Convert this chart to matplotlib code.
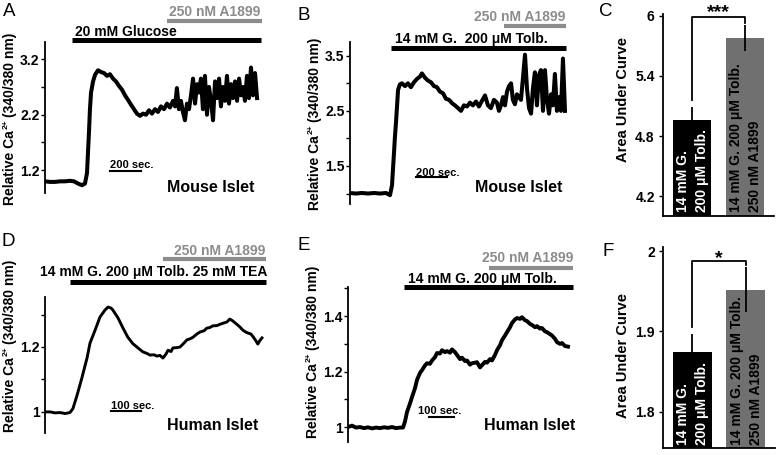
import matplotlib.pyplot as plt
import matplotlib.transforms as mtransforms

# ---------------- data ----------------
# A: mouse islet, 20 mM glucose (time in s, Ca ratio)
a_t = [0, 32, 65, 97, 129, 161, 187, 213, 239, 258, 271, 277, 284, 290, 297, 310, 323, 342,
       361, 381, 400, 419, 439, 458, 477, 497, 516, 535, 555, 574, 593, 613, 632, 652, 671,
       690, 710, 729, 748, 768, 787, 806, 826, 839, 851, 864, 877, 890, 903, 916, 929, 942,
       955, 968, 981, 993, 1006, 1019, 1032, 1045, 1058, 1071, 1084, 1097, 1110, 1123, 1135,
       1148, 1161, 1174, 1187, 1200, 1213, 1226, 1239, 1252, 1265, 1277, 1290, 1303, 1316,
       1329, 1342, 1355, 1368]
a_v = [1.0, 0.99, 0.99, 1.0, 1.0, 1.01, 1.0, 0.96, 0.93, 0.96, 1.15, 1.5, 1.9, 2.3, 2.6, 2.8,
       2.92, 3.0, 2.97, 2.95, 2.9, 2.93, 2.85, 2.8, 2.72, 2.65, 2.55, 2.47, 2.38, 2.3, 2.22,
       2.18, 2.22, 2.2, 2.28, 2.22, 2.3, 2.25, 2.35, 2.3, 2.4, 2.33, 2.45, 2.35, 2.68, 2.3,
       2.45, 2.25, 2.1, 2.4, 2.3, 2.55, 2.85, 2.4, 2.75, 2.6, 2.85, 2.3, 2.9, 2.2, 2.7, 2.45,
       2.1, 2.8, 2.5, 2.85, 2.35, 2.7, 2.45, 2.9, 2.4, 2.75, 2.5, 2.8, 2.45, 2.85, 2.55, 2.7,
       2.45, 2.9, 2.5, 3.05, 2.55, 2.95, 2.5]

# B: mouse islet, 14 mM glucose + 200 uM tolbutamide
b_t = [0, 39, 77, 116, 155, 194, 232, 258, 271, 284, 290, 297, 310, 322, 335, 355, 374, 393,
       413, 432, 451, 464, 484, 503, 522, 542, 561, 580, 600, 619, 639, 658, 677, 697, 716,
       735, 755, 774, 793, 813, 832, 851, 871, 890, 909, 929, 948, 961, 974, 987, 1000, 1013,
       1026, 1039, 1051, 1064, 1077, 1090, 1103, 1116, 1129, 1142, 1155, 1168, 1180, 1193,
       1206, 1219, 1232, 1245, 1258, 1271, 1284, 1297, 1309, 1322, 1335, 1348, 1361, 1374, 1387]
b_v = [1.01, 1.0, 1.01, 1.0, 1.01, 1.0, 1.01, 0.97, 1.15, 1.75, 2.03, 2.3, 2.88, 2.98, 3.0,
       2.95, 3.0, 2.93, 3.02, 3.08, 3.12, 3.18, 3.1, 3.05, 3.02, 2.95, 2.93, 2.85, 2.82, 2.72,
       2.7, 2.64, 2.6, 2.55, 2.5, 2.6, 2.58, 2.65, 2.6, 2.67, 2.58, 2.68, 2.78, 2.6, 2.55, 2.7,
       2.65, 2.5, 2.6, 2.75, 2.6, 2.85, 2.95, 3.0, 2.7, 2.62, 2.8, 2.75, 2.7, 3.1, 3.52, 2.9,
       2.55, 2.45, 2.9, 3.2, 2.6, 3.15, 3.24, 2.5, 3.24, 2.7, 2.45, 2.8, 2.6, 3.17, 2.5, 2.75,
       2.5, 3.45, 2.5]

# D: human islet, glucose + tolbutamide + TEA
d_t = [0, 17, 33, 50, 67, 83, 93, 107, 123, 140, 150, 167, 183, 200, 210, 220, 226, 243, 260,
       276, 293, 310, 326, 340, 350, 363, 373, 383, 393, 403, 410, 420, 426, 440, 450, 463,
       473, 483, 493, 506, 516, 530, 539, 549, 559, 573, 583, 596, 606, 616, 626, 639, 649,
       659, 669, 676, 686, 693, 702, 709, 716, 723]
d_v = [1.0, 1.0, 0.997, 0.998, 0.995, 0.998, 1.01, 1.052, 1.105, 1.166, 1.212, 1.252, 1.292,
       1.314, 1.323, 1.32, 1.314, 1.29, 1.258, 1.23, 1.21, 1.197, 1.185, 1.18, 1.175, 1.176,
       1.172, 1.174, 1.166, 1.178, 1.19, 1.186, 1.197, 1.198, 1.2, 1.212, 1.222, 1.225, 1.23,
       1.24, 1.246, 1.25, 1.258, 1.26, 1.265, 1.266, 1.27, 1.274, 1.277, 1.286, 1.28, 1.27,
       1.262, 1.252, 1.246, 1.243, 1.24, 1.232, 1.22, 1.209, 1.22, 1.228]

# E: human islet, glucose + tolbutamide
e_t = [0, 16, 32, 48, 64, 80, 96, 112, 128, 144, 160, 176, 192, 208, 220, 228, 236, 248, 256,
       268, 276, 288, 296, 308, 316, 328, 336, 348, 356, 368, 376, 388, 396, 408, 416, 428,
       436, 448, 456, 468, 476, 488, 496, 508, 516, 528, 536, 548, 556, 568, 576, 588, 596,
       608, 616, 628, 636, 648, 656, 668, 676, 688, 696, 708, 716, 728, 736, 748, 756, 768,
       776, 788, 796, 808, 816, 828, 836, 848, 856, 868, 880]
e_v = [1.0, 1.005, 0.998, 1.0, 0.996, 0.999, 0.995, 0.998, 0.996, 0.999, 0.997, 1.0, 0.996,
       0.998, 0.998, 1.02, 1.054, 1.085, 1.108, 1.14, 1.17, 1.195, 1.205, 1.222, 1.23, 1.228,
       1.24, 1.252, 1.267, 1.265, 1.277, 1.27, 1.274, 1.268, 1.28, 1.27, 1.26, 1.245, 1.25,
       1.238, 1.24, 1.225, 1.23, 1.232, 1.234, 1.215, 1.223, 1.235, 1.232, 1.245, 1.24, 1.26,
       1.277, 1.295, 1.313, 1.33, 1.342, 1.36, 1.375, 1.388, 1.393, 1.39, 1.396, 1.385, 1.382,
       1.372, 1.368, 1.36, 1.364, 1.355, 1.357, 1.345, 1.342, 1.335, 1.33, 1.318, 1.306, 1.3,
       1.303, 1.292, 1.29]

# treatment periods (s): [start, end]
a_glucose = [174, 1393]
a_a1899 = [787, 1400]
b_tolb = [264, 1393]
b_a1899 = [993, 1393]
d_tolb = [83, 736]
d_a1899 = [393, 736]
e_tolb = [224, 900]
e_a1899 = [564, 900]

# area under curve bars
bar_labels_1 = ['14 mM G.', '14 mM G. 200 \u03bcM Tolb.']
bar_labels_2 = ['200 \u03bcM Tolb.', '250 nM A1899']
c_means = [4.96, 5.78]
c_err = [0.13, 0.13]
f_means = [1.874, 1.952]
f_err = [0.023, 0.028]

ylab_main = 'Relative Ca'
ylab_sup = '2+'
ylab_tail = '(340/380 nm)'

# ---------------- style ----------------
plt.rcParams['font.family'] = ['Liberation Sans', 'DejaVu Sans']
plt.rcParams['font.weight'] = 'bold'

W, H = 777, 455
GRAY_ANN = '#8c8c8c'
GRAY_BAR = '#707070'
fig = plt.figure(figsize=(W / 100, H / 100), dpi=100)


def px_axes(x0, y0, x1, y1):
    return fig.add_axes([x0 / W, 1 - y1 / H, (x1 - x0) / W, (y1 - y0) / H])


def fy(ypx):
    return 1 - ypx / H


def blend(ax):
    return mtransforms.blended_transform_factory(ax.transData, fig.transFigure)


def trace_panel(ax, t, v, xlim, ylim, yticks, ylabels, lw):
    ax.plot(t, v, color='black', lw=lw, solid_joinstyle='round')
    ax.set_xlim(xlim)
    ax.set_ylim(ylim)
    for s in ['top', 'right', 'bottom']:
        ax.spines[s].set_visible(False)
    ax.spines['left'].set_linewidth(1.3)
    ax.set_xticks([])
    ax.set_yticks(yticks, ylabels)
    ax.tick_params(axis='y', length=3, width=1, pad=1, labelsize=10)
    ax.patch.set_visible(False)


def treatment(ax, span, ypx, label, color, text_t, ha, text_ypx, lw):
    tr = blend(ax)
    ax.plot(span, [fy(ypx), fy(ypx)], color=color, lw=lw, transform=tr,
            clip_on=False, solid_capstyle='butt')
    ax.text(text_t, fy(text_ypx), label, color=color, ha=ha, va='center',
            fontsize=10, transform=tr)


def scalebar(ax, t0, length, bar_ypx, label, text_t, text_ypx, tag, tag_t, tag_ypx):
    tr = blend(ax)
    ax.plot([t0, t0 + length], [fy(bar_ypx), fy(bar_ypx)], color='black', lw=1.5,
            transform=tr, clip_on=False)
    ax.text(text_t, fy(text_ypx), label, ha='left', va='baseline', fontsize=8, transform=tr)
    ax.text(tag_t, fy(tag_ypx), tag, ha='center', va='center', fontsize=11.5, transform=tr)


def draw_ylab(xpx, ybot_px):
    # rotated label built from pieces so that the superscript stays small
    t1 = fig.text(xpx / W, fy(ybot_px), ylab_main, rotation=90, ha='center', va='bottom',
                  fontsize=10)
    fig.canvas.draw()
    top1 = t1.get_window_extent().y1
    t2 = fig.text((xpx - 4) / W, (top1 + 1) / H, ylab_sup, rotation=90, ha='center',
                  va='bottom', fontsize=6)
    fig.canvas.draw()
    top2 = t2.get_window_extent().y1
    fig.text(xpx / W, (top2 + 3) / H, ylab_tail, rotation=90, ha='center', va='bottom',
             fontsize=10)


# ---------------- A ----------------
axA = px_axes(45, 42, 262, 193)
trace_panel(axA, a_t, a_v, (0, 1400), (0.79, 3.51), [1.2, 1.7, 2.2, 2.7, 3.2],
            ['1.2', '', '2.2', '', '3.2'], 2.9)
treatment(axA, a_glucose, 40, '20 mM Glucose', 'black', 194, 'left', 32, 3.6)
treatment(axA, a_a1899, 21, '250 nM A1899', GRAY_ANN, 1387, 'right', 12, 3.0)
scalebar(axA, 419, 200, 171, '200 sec.', 419, 168, 'Mouse Islet', 1067, 188)
draw_ylab(10, 205)
fig.text(9 / W, fy(12), 'A', ha='center', va='center', fontsize=13.5, fontweight='normal')

# ---------------- B ----------------
axB = px_axes(350, 42, 567, 204)
trace_panel(axB, b_t, b_v, (0, 1400), (0.81, 3.75), [1.0, 1.5, 2.0, 2.5, 3.0, 3.5],
            ['', '1.5', '', '2.5', '', '3.5'], 2.9)
treatment(axB, b_tolb, 48, '14 mM G.  200 \u03bcM Tolb.', 'black', 290, 'left', 39, 3.6)
treatment(axB, b_a1899, 26, '250 nM A1899', GRAY_ANN, 1387, 'right', 17, 3.0)
scalebar(axB, 426, 200, 177, '200 sec.', 426, 176, 'Mouse Islet', 1090, 188)
draw_ylab(315, 210)
fig.text(304 / W, fy(15), 'B', ha='center', va='center', fontsize=13.5, fontweight='normal')

# ---------------- D ----------------
axD = px_axes(45, 297, 265, 433)
trace_panel(axD, d_t, d_v, (0, 733), (0.935, 1.354), [1.0, 1.1, 1.2, 1.3],
            ['1', '', '1.2', ''], 2.1)
treatment(axD, d_tolb, 282, '14 mM G. 200 \u03bcM Tolb. 25 mM TEA', 'black', -17, 'left', 272, 3.6)
treatment(axD, d_a1899, 259, '250 nM A1899', GRAY_ANN, 733, 'right', 251, 3.0)
scalebar(axD, 220, 100, 411, '100 sec.', 220, 409, 'Human Islet', 560, 425)
draw_ylab(10, 432)
fig.text(8 / W, fy(242), 'D', ha='center', va='center', fontsize=13.5, fontweight='normal')

# ---------------- E ----------------
axE = px_axes(348, 287, 572, 442)
trace_panel(axE, e_t, e_v, (0, 896), (0.946, 1.505), [1.0, 1.1, 1.2, 1.3, 1.4, 1.5],
            ['1', '', '1.2', '', '1.4', ''], 2.8)
treatment(axE, e_tolb, 287, '14 mM G. 200 \u03bcM Tolb.', 'black', 240, 'left', 279, 3.6)
treatment(axE, e_a1899, 268, '250 nM A1899', GRAY_ANN, 900, 'right', 258, 3.0)
scalebar(axE, 324, 100, 417, '100 sec.', 280, 414, 'Human Islet', 726, 425)
draw_ylab(313, 438)
fig.text(304 / W, fy(246), 'E', ha='center', va='center', fontsize=13.5, fontweight='normal')


# ---------------- bar panels ----------------
def auc_panel(ax, means, err, ylim, yticks, ylabels, sig_y, gap, stars, star_ypx, text_ypx):
    x = [0, 1]
    ax.bar(x, means, width=0.72, color=['black', GRAY_BAR], bottom=0)
    ax.errorbar(x, means, yerr=err, fmt='none', ecolor='black', elinewidth=1.3, capsize=0)
    tops = [m + e + g for m, e, g in zip(means, err, gap)]
    ax.plot([0, 0, 1, 1], [tops[0], sig_y, sig_y, tops[1]], color='black', lw=1.3, clip_on=False)
    tr = blend(ax)
    ax.text(0.5, fy(star_ypx), stars, ha='center', va='baseline', fontsize=14, transform=tr)
    for i, c in zip(x, ['white', 'black']):
        ax.text(i - 0.17, fy(text_ypx), bar_labels_1[i], rotation=90, ha='center', va='bottom',
                color=c, fontsize=10, transform=tr)
        ax.text(i + 0.19, fy(text_ypx), bar_labels_2[i], rotation=90, ha='center', va='bottom',
                color=c, fontsize=10, transform=tr)
    ax.set_xlim(-0.547, 1.547)
    ax.set_ylim(ylim)
    ax.spines['top'].set_visible(False)
    ax.spines['right'].set_visible(False)
    ax.spines['left'].set_linewidth(1.3)
    ax.spines['bottom'].set_linewidth(1.3)
    ax.set_xticks([])
    ax.set_yticks(yticks, ylabels)
    ax.tick_params(axis='y', length=3, width=1, pad=3, labelsize=10)


axC = px_axes(663, 14, 774, 216)
auc_panel(axC, c_means, c_err, (4.0, 6.02), [4.2, 4.8, 5.4, 6.0], ['4.2', '4.8', '5.4', '6'],
          5.99, [0.07, 0.02], '***', 17, 212)
fig.text(623 / W, fy(100), 'Area Under Curve', rotation=90, ha='center', va='center', fontsize=10.5)
fig.text(606 / W, fy(12), 'C', ha='center', va='center', fontsize=13.5, fontweight='normal')

axF = px_axes(663, 247, 775, 448)
auc_panel(axF, f_means, f_err, (1.755, 2.005), [1.8, 1.9, 2.0], ['1.8', '1.9', '2'],
          1.988, [0.009, 0.003], '*', 263, 445)
fig.text(623 / W, fy(355), 'Area Under Curve', rotation=90, ha='center', va='center', fontsize=10.5)
fig.text(608 / W, fy(251), 'F', ha='center', va='center', fontsize=13.5, fontweight='normal')

fig.savefig('out.png', dpi=100)
